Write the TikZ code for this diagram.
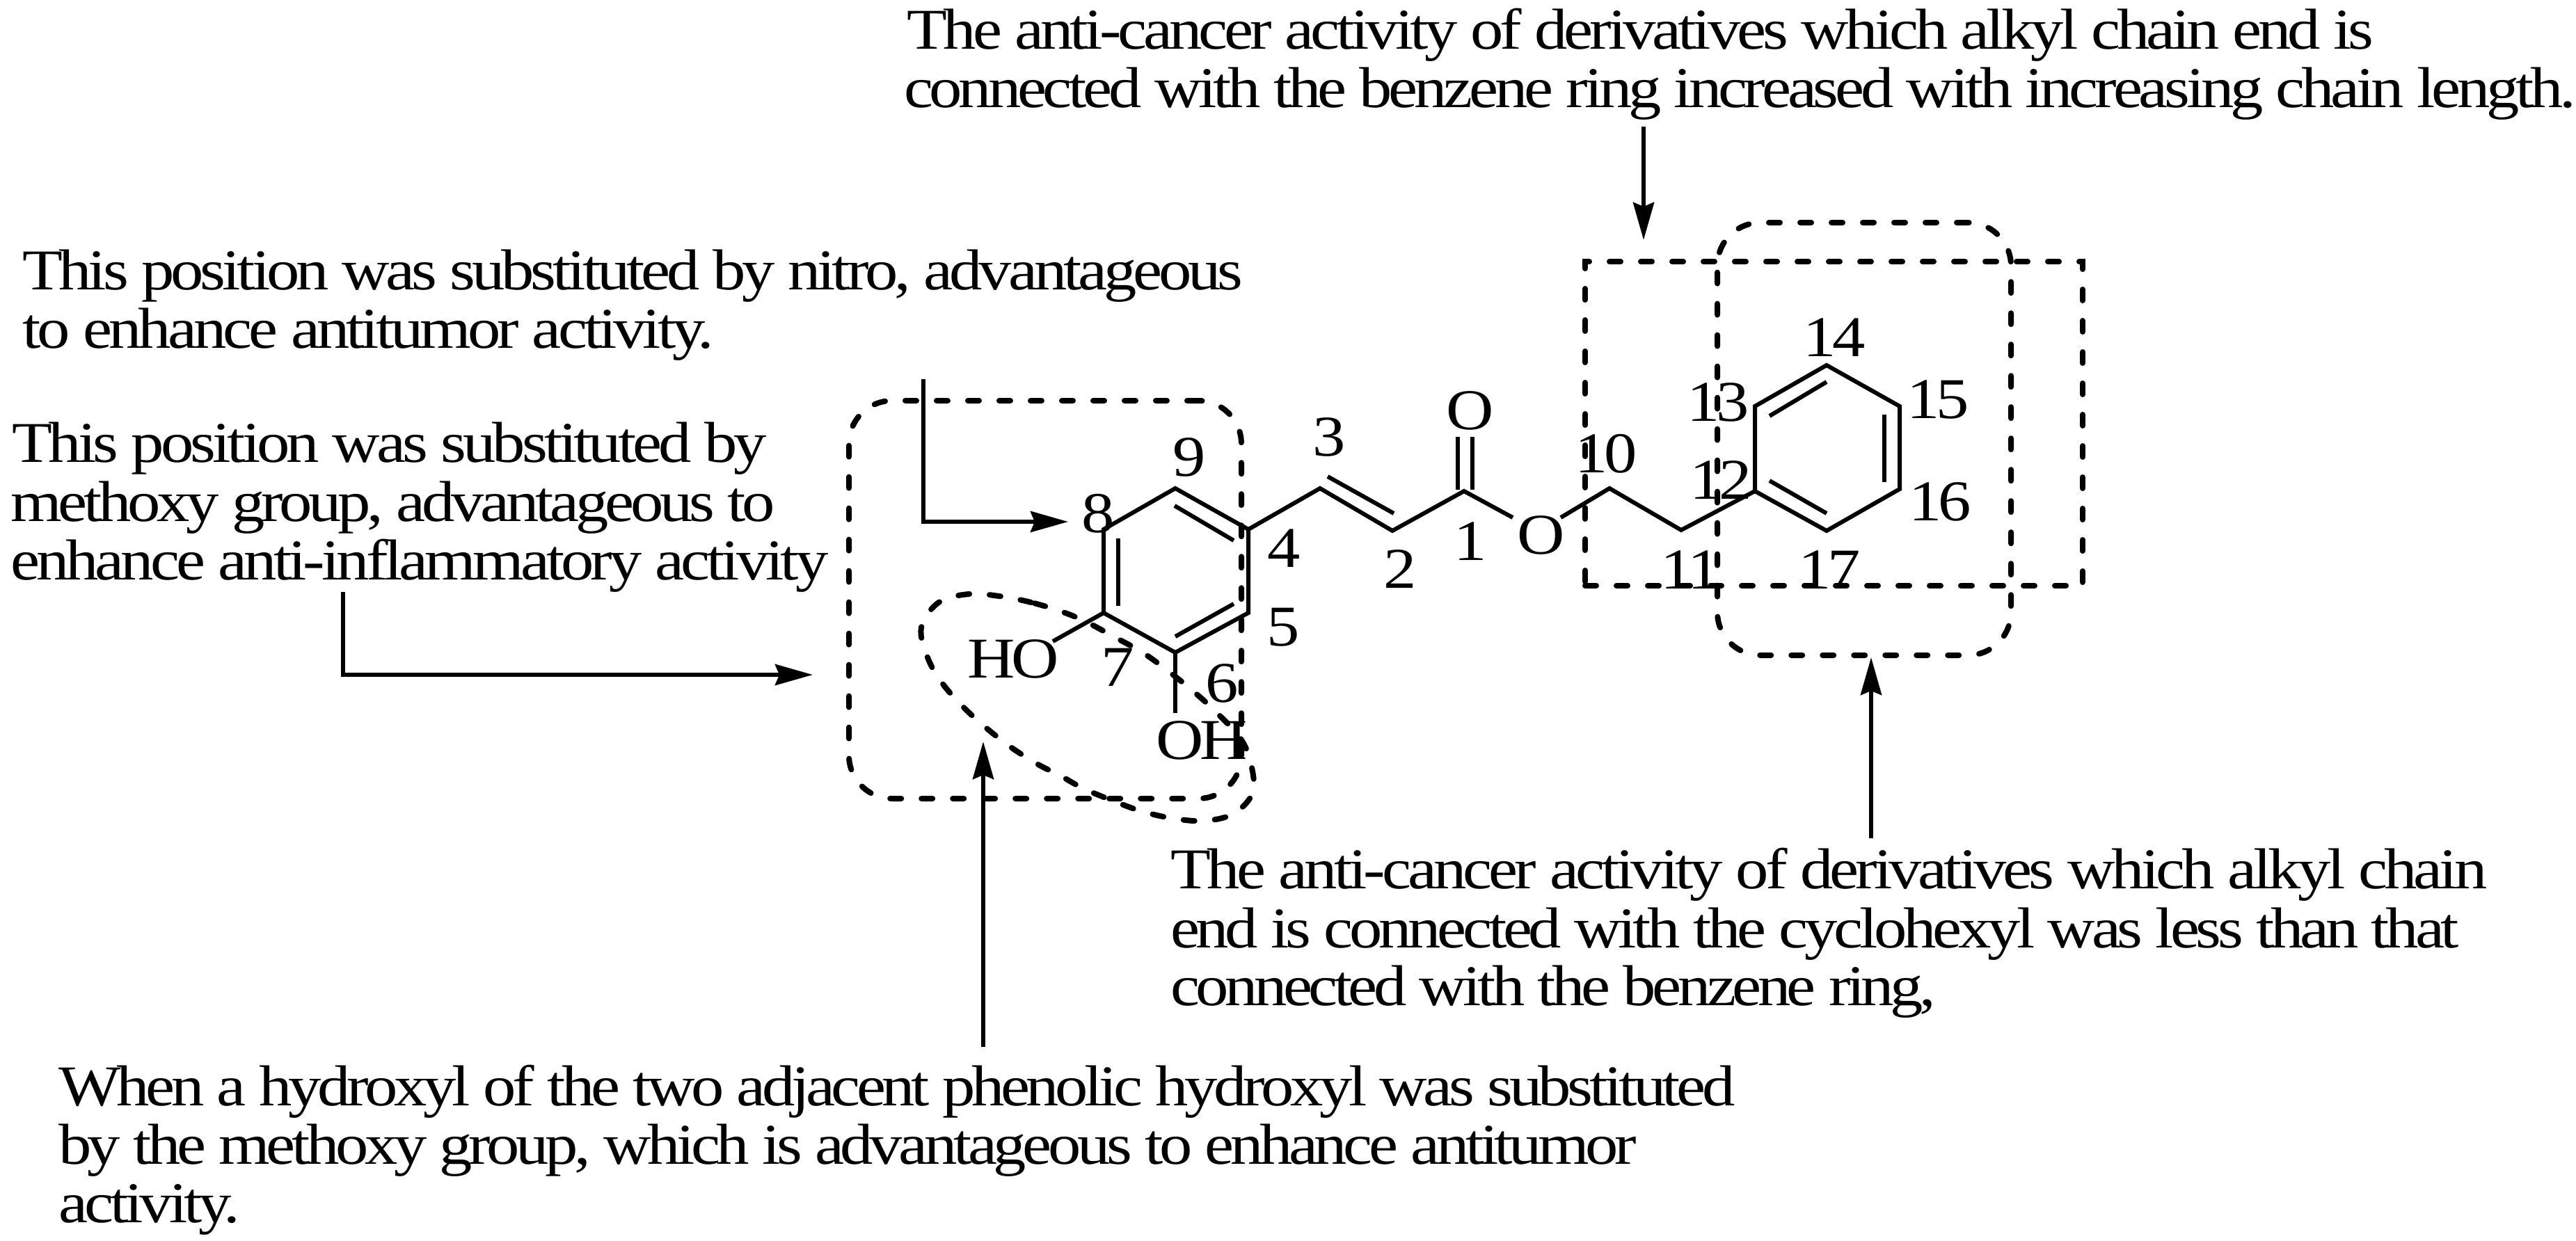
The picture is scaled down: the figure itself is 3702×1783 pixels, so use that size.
\documentclass[tikz,border=0pt]{standalone}
\usepackage{fontspec}
\setmainfont{Liberation Serif}[FakeStretch=1.14,LetterSpace=-6]
\newcommand{\lsp}[1]{\addfontfeature{LetterSpace=#1}}
\usetikzlibrary{arrows.meta}
\tikzset{
  lab/.style={inner sep=0pt,outer sep=0pt,font=\fontsize{83}{84}\selectfont},
  txt/.style={lab,anchor=base west},
  bond/.style={line width=6pt,line join=miter,line cap=butt},
  arw/.style={line width=6pt,line join=miter,-{Stealth[length=54pt,width=30pt,inset=6pt]}},
  dashbox/.style={draw,line width=8pt,line cap=round,dash pattern=on 16pt off 29pt,inner sep=0pt,outer sep=0pt},
}
\begin{document}
\begin{tikzpicture}[x=1pt,y=-1pt]
\useasboundingbox (0,0) rectangle (3702,1783);
% dashed frames
\node[dashbox,rounded corners=62pt,minimum width=564pt,minimum height=572pt] (frameC) at (1502,862) {};
\node[dashbox,minimum width=715pt,minimum height=466pt] (frameA) at (2635.5,609) {};
\node[dashbox,rounded corners=62pt,minimum width=422pt,minimum height=622pt] (frameB) at (2679,631) {};
\draw[line width=8pt,line cap=round,dash pattern=on 16pt off 29pt]
  plot[smooth cycle,tension=0.6] coordinates {(1528,880)(1482,866)(1436,857)(1392,854)(1349,866)(1324,902)(1333,945)(1354,982)(1385,1017)(1418,1047)(1454,1075)(1492,1099)(1522,1114)(1556,1133)(1599,1151)(1640,1166)(1683,1176)(1729,1180)(1772,1170)(1800,1140)(1798,1099)(1783,1062)(1747,1023)(1714,993)(1678,964)(1642,938)(1604,917)(1563,895)};
% atoms
\coordinate (a9) at (1689,702);
\coordinate (a4) at (1794,761);
\coordinate (a5) at (1794,881);
\coordinate (a6) at (1689,938);
\coordinate (a7) at (1586,881);
\coordinate (a8) at (1586,761);
\coordinate (a3) at (1897,702);
\coordinate (a2) at (2001,763);
\coordinate (a1) at (2104,706);
\coordinate (a10) at (2313,702);
\coordinate (a11) at (2416,762);
\coordinate (a12) at (2522,706);
\coordinate (a13) at (2522,584);
\coordinate (a14) at (2625,525);
\coordinate (a15) at (2730,584);
\coordinate (a16) at (2730,703);
\coordinate (a17) at (2625,763);
\coordinate (hoE) at (1513,922);
\coordinate (ohE) at (1689,1025);
\coordinate (oE1) at (2174,744);
\coordinate (oE2) at (2243,744);
% skeleton
\draw[bond] (a9)--(a4)--(a5)--(a6)--(a7)--(a8)--cycle;
\draw[bond] (a4)--(a3)--(a2)--(a1)--(oE1);
\draw[bond] (oE2)--(a10)--(a11)--(a12);
\draw[bond] (a12)--(a13)--(a14)--(a15)--(a16)--(a17)--cycle;
\draw[bond] (a7)--(hoE);
\draw[bond] (a6)--(ohE);
% inner lines of double bonds
\coordinate (d1a) at (1688,727); \coordinate (d1b) at (1773,777);
\coordinate (d2a) at (1607,774); \coordinate (d2b) at (1607,871);
\coordinate (d3a) at (1689,915); \coordinate (d3b) at (1773,868);
\coordinate (d4a) at (1908,685); \coordinate (d4b) at (2003,738);
\coordinate (d5a) at (2543,598); \coordinate (d5b) at (2625,549);
\coordinate (d6a) at (2708,596); \coordinate (d6b) at (2708,693);
\coordinate (d7a) at (2543,691); \coordinate (d7b) at (2625,738);
\coordinate (c1a) at (2095,628); \coordinate (c1b) at (2095,704);
\coordinate (c2a) at (2116,628); \coordinate (c2b) at (2116,704);
\draw[bond] (d1a)--(d1b);
\draw[bond] (d2a)--(d2b);
\draw[bond] (d3a)--(d3b);
\draw[bond] (d4a)--(d4b);
\draw[bond] (d5a)--(d5b);
\draw[bond] (d6a)--(d6b);
\draw[bond] (d7a)--(d7b);
\draw[bond] (c1a)--(c1b);
\draw[bond] (c2a)--(c2b);
% atom labels
\node[lab] (n1) at (2113,778) {1};
\node[lab] (n2) at (2012,818) {2};
\node[lab] (n3) at (1910,628) {3};
\node[lab] (n4) at (1845,788) {4};
\node[lab] (n5) at (1844,902) {5};
\node[lab] (n6) at (1756,982) {6};
\node[lab] (n7) at (1606,959) {7};
\node[lab] (n8) at (1578,738) {8};
\node[lab] (n9) at (1709,657) {9};
\node[lab] (n10) at (2308,652) {10};
\node[lab] (n11) at (2430,819) {11};
\node[lab] (n12) at (2473,690) {12};
\node[lab] (n13) at (2469,578) {13};
\node[lab] (n14) at (2636,485) {14};
\node[lab] (n15) at (2785,574) {15};
\node[lab] (n16) at (2788,721) {16};
\node[lab] (n17) at (2629,819) {17};
\node[lab] (nO1) at (2113,590) {O};
\node[lab] (nO2) at (2215,769) {O};
\node[lab] (nHO) at (1456,947) {HO};
\node[lab] (nOH) at (1727,1064) {OH};
% texts
\node[txt] (t1a) at (1303,70) {\lsp{-6.13}The anti-cancer activity of derivatives which alkyl chain end is};
\node[txt] (t1b) at (1299,154) {\lsp{-6.3}connected with the benzene ring increased with increasing chain length.};
\node[txt] (t2a) at (32,416) {\lsp{-6.15}This position was substituted by nitro, advantageous};
\node[txt] (t2b) at (32,500) {to enhance antitumor activity.};
\node[txt] (t3a) at (17,664) {This position was substituted by};
\node[txt] (t3b) at (15,749) {\lsp{-6.3}methoxy group, advantageous to};
\node[txt] (t3c) at (15,833) {enhance anti-inflammatory activity};
\node[txt] (t4a) at (1682,1277) {The anti-cancer activity of derivatives which alkyl chain};
\node[txt] (t4b) at (1682,1362) {\lsp{-6.35}end is connected with the cyclohexyl was less than that};
\node[txt] (t4c) at (1682,1445) {\lsp{-6.6}connected with the benzene ring,};
\node[txt] (t5a) at (84,1589) {\lsp{-6.5}When a hydroxyl of the two adjacent phenolic hydroxyl was substituted};
\node[txt] (t5b) at (84,1673) {\lsp{-6.5}by the methoxy group, which is advantageous to enhance antitumor};
\node[txt] (t5c) at (84,1757) {activity.};
% arrows
\coordinate (p1) at (1327,545);
\coordinate (p1c) at (1327,750);
\coordinate (p1t) at (1535,750);
\draw[arw] (p1)--(p1c)--(p1t);
\coordinate (p2) at (493,851);
\coordinate (p2c) at (493,970);
\coordinate (p2t) at (1168,970);
\draw[arw] (p2)--(p2c)--(p2t);
\coordinate (p3) at (1413,1505);
\coordinate (p3t) at (1413,1066);
\draw[arw] (p3)--(p3t);
\coordinate (p4) at (2362,182);
\coordinate (p4t) at (2362,345);
\draw[arw] (p4)--(p4t);
\coordinate (p5) at (2689,1205);
\coordinate (p5t) at (2689,945);
\draw[arw] (p5)--(p5t);
\end{tikzpicture}
\end{document}
